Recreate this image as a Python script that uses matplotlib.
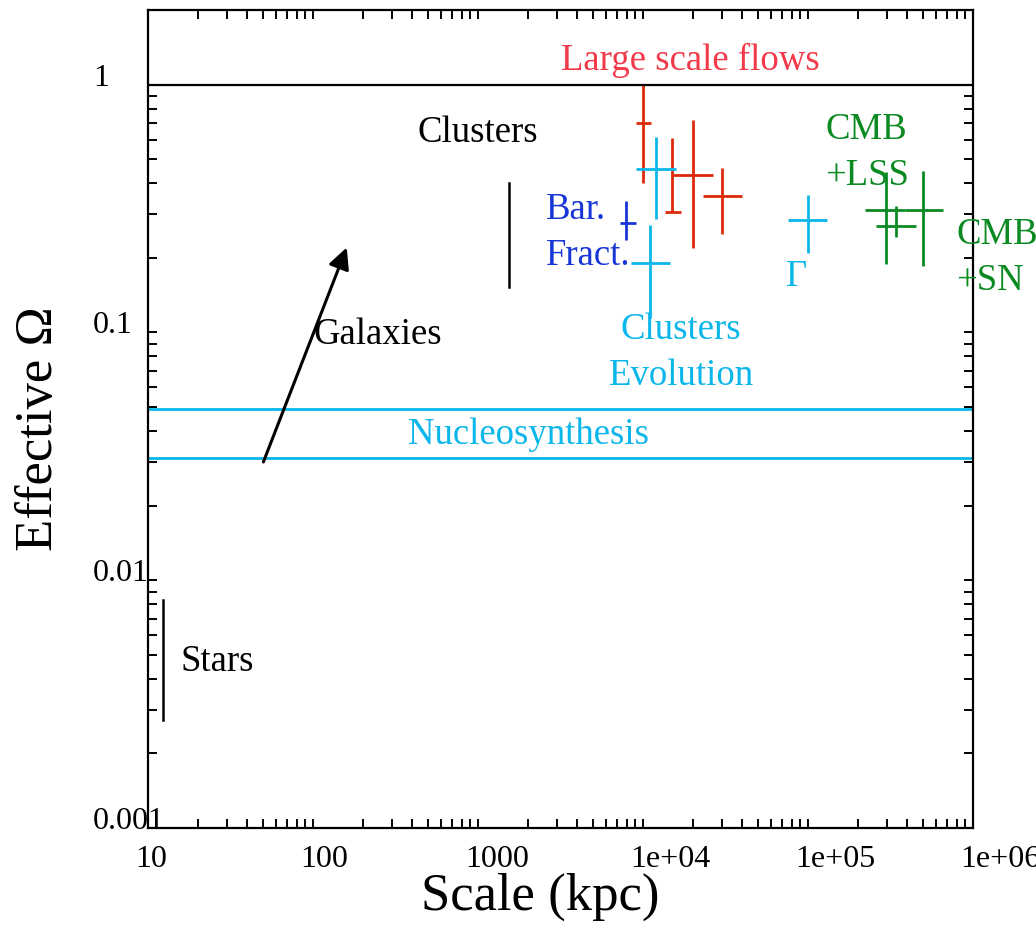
import numpy as np
import matplotlib
matplotlib.use("Agg")
import matplotlib.pyplot as plt
import matplotlib.transforms as mtransforms
from matplotlib.ticker import FixedLocator, NullFormatter

plt.rcParams['font.family'] = ['Liberation Serif', 'DejaVu Serif']

# large scale flows (red)
flows_x = np.array([1.0e4, 1.5e4, 2.0e4, 3.0e4])
flows_xlo = np.array([9.1e3, 1.36e4, 1.5e4, 2.3e4])
flows_xhi = np.array([1.12e4, 1.7e4, 2.65e4, 4.0e4])
flows_y = np.array([0.70, 0.305, 0.43, 0.355])
flows_ylo = np.array([0.40, 0.305, 0.22, 0.25])
flows_yhi = np.array([1.0, 0.61, 0.72, 0.46])

# cluster evolution (cyan)
evol_x = np.array([1.2e4, 1.1e4])
evol_xlo = np.array([9.1e3, 8.5e3])
evol_xhi = np.array([1.58e4, 1.46e4])
evol_y = np.array([0.455, 0.19])
evol_ylo = np.array([0.287, 0.114])
evol_yhi = np.array([0.617, 0.272])

# shape parameter Gamma (cyan)
gamma_x = np.array([1.0e5])
gamma_xlo = np.array([7.6e4])
gamma_xhi = np.array([1.31e5])
gamma_y = np.array([0.285])
gamma_ylo = np.array([0.209])
gamma_yhi = np.array([0.357])

# CMB + LSS / SN (green)
cmb_x = np.array([2.95e5, 3.4e5, 4.95e5])
cmb_xlo = np.array([2.2e5, 2.6e5, 3.85e5])
cmb_xhi = np.array([3.87e5, 4.5e5, 6.55e5])
cmb_y = np.array([0.313, 0.27, 0.313])
cmb_ylo = np.array([0.189, 0.242, 0.185])
cmb_yhi = np.array([0.443, 0.325, 0.447])

# baryon fraction (blue)
bar_x = np.array([7.9e3])
bar_xlo = np.array([7.3e3])
bar_xhi = np.array([9.1e3])
bar_y = np.array([0.276])
bar_ylo = np.array([0.236])
bar_yhi = np.array([0.34])

# ranges without x error
clusters_x = 1540
clusters_y = [0.152, 0.40]
stars_x = 12.3
stars_y = [0.00274, 0.0083]
galaxies_start = (50, 0.03)
galaxies_end = (160, 0.22)
nucleo_lo, nucleo_hi = 0.031, 0.049

xticks = [10, 100, 1000, 1e4, 1e5, 1e6]
xticklabels = ["10", "100", "1000", "1e+04", "1e+05", "1e+06"]
yticks = [0.001, 0.01, 0.1, 1]
yticklabels = ["0.001", "0.01", "0.1", "1"]

RED_TXT = '#f23a4a'
RED = '#de2a08'
CYAN = '#0ab6ea'
BLUE = '#1836d8'
GREEN = '#0c8a22'

fig = plt.figure(figsize=(10.36, 9.26), dpi=100)
ax = fig.add_axes([0.1429, 0.1058, 0.7963, 0.8834])
ax.set_xscale('log')
ax.set_yscale('log')
ax.set_xlim(10, 1e6)
ax.set_ylim(0.001, 2.0)


def bars(x, xlo, xhi, y, ylo, yhi, color):
    ax.errorbar(x, y, xerr=[x - xlo, xhi - x], yerr=[y - ylo, yhi - y],
                fmt='none', ecolor=color, elinewidth=2.0, capsize=0)


bars(flows_x, flows_xlo, flows_xhi, flows_y, flows_ylo, flows_yhi, RED)
bars(evol_x, evol_xlo, evol_xhi, evol_y, evol_ylo, evol_yhi, CYAN)
bars(gamma_x, gamma_xlo, gamma_xhi, gamma_y, gamma_ylo, gamma_yhi, CYAN)
bars(cmb_x, cmb_xlo, cmb_xhi, cmb_y, cmb_ylo, cmb_yhi, GREEN)
bars(bar_x, bar_xlo, bar_xhi, bar_y, bar_ylo, bar_yhi, BLUE)

ax.plot([clusters_x, clusters_x], clusters_y, color='k', lw=1.8)
ax.plot([stars_x, stars_x], stars_y, color='k', lw=1.8)
ax.annotate('', xy=galaxies_end, xytext=galaxies_start,
            arrowprops=dict(arrowstyle='-|>', color='k', lw=2.2,
                            mutation_scale=32, shrinkA=0, shrinkB=0))

ax.axhline(1.0, color='k', lw=1.6)
ax.axhline(nucleo_hi, color=CYAN, lw=2.0)
ax.axhline(nucleo_lo, color=CYAN, lw=2.0)

fs = 26.5
ls = 1.42
ax.text(1.93e4, 1.25, "Large scale flows", color=RED_TXT, fontsize=fs, ha='center', va='center')
ax.text(1000, 0.64, "Clusters", color='k', fontsize=fs, ha='center', va='center')
ax.text(2.58e3, 0.252, "Bar.\nFract.", color=BLUE, fontsize=fs, ha='left', va='center', linespacing=ls)
ax.text(1.27e5, 0.53, "CMB\n+LSS", color=GREEN, fontsize=fs, ha='left', va='center', linespacing=ls)
ax.text(7.89e5, 0.2, "CMB\n+SN", color=GREEN, fontsize=fs, ha='left', va='center', linespacing=ls)
ax.text(7.36e4, 0.167, "Γ", color=CYAN, fontsize=fs, ha='left', va='center')
ax.text(1.7e4, 0.0827, "Clusters\nEvolution", color=CYAN, fontsize=fs, ha='center', va='center', linespacing=ls)
ax.text(100, 0.098, "Galaxies", color='k', fontsize=fs, ha='left', va='center')
ax.text(2.01e3, 0.0385, "Nucleosynthesis", color=CYAN, fontsize=fs, ha='center', va='center')
ax.text(15.8, 0.0047, "Stars", color='k', fontsize=fs, ha='left', va='center')

# axes frame and ticks
for s in ax.spines.values():
    s.set_linewidth(1.6)
ax.tick_params(which='both', direction='in', top=True, right=True,
               length=6.5, width=1.4)
ax.tick_params(axis='x', which='major', pad=12, labelsize=23)
ax.tick_params(axis='y', which='major', pad=0, labelsize=23)
ax.xaxis.set_major_locator(FixedLocator(xticks))
ax.yaxis.set_major_locator(FixedLocator(yticks))
ax.set_xticklabels(xticklabels)
ax.set_yticklabels(yticklabels)
ax.xaxis.set_minor_formatter(NullFormatter())
ax.yaxis.set_minor_formatter(NullFormatter())

# tick labels start just left of the tick instead of being centred on it
xoff = mtransforms.ScaledTranslation(-0.13, 0, fig.dpi_scale_trans)
for lab in ax.get_xticklabels():
    lab.set_ha('left')
    lab.set_transform(lab.get_transform() + xoff)
yoff = mtransforms.ScaledTranslation(-0.55, 0.10, fig.dpi_scale_trans)
for lab in ax.get_yticklabels():
    lab.set_ha('left')
    lab.set_transform(lab.get_transform() + yoff)

fig.text(540 / 1036, 1 - 897 / 926, "Scale (kpc)", fontsize=38, ha='center', va='center')
fig.text(39 / 1036, 1 - 429 / 926, "Effective Ω", fontsize=38, rotation=90, ha='center', va='center')

fig.savefig("out.png", dpi=100)
